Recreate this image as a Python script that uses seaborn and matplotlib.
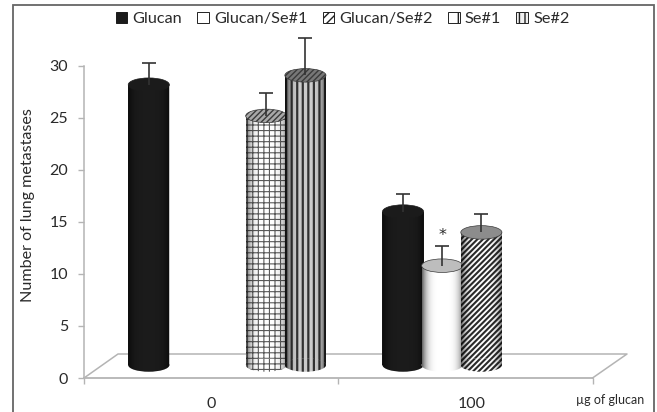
import numpy as np
import pandas as pd
import matplotlib
matplotlib.use("Agg")
import matplotlib.pyplot as plt
from matplotlib.patches import Ellipse, Patch, Polygon, Rectangle
import seaborn as sns

# ----- data -----
doses = ["0", "100"]
groups = ["Glucan", "Glucan/Se#1", "Glucan/Se#2", "Se#1", "Se#2"]
row_dose = ["0", "0", "0", "100", "100", "100"]
row_group = ["Glucan", "Se#1", "Se#2", "Glucan", "Glucan/Se#1", "Glucan/Se#2"]
row_mean = [28.2, 25.2, 29.1, 16.0, 10.8, 14.0]
row_top = [30.3, 27.4, 32.7, 17.7, 12.7, 15.8]
y_ticks = [0, 5, 10, 15, 20, 25, 30]

# ----- looks -----
face = {"Glucan": "#1b1b1b", "Glucan/Se#1": "#ffffff", "Glucan/Se#2": "#ffffff",
        "Se#1": "#ffffff", "Se#2": "#f0f0f0"}
hatch_col = {"Glucan": "#1b1b1b", "Glucan/Se#1": "#ffffff", "Glucan/Se#2": "#2b2b2b",
             "Se#1": "#5a5a5a", "Se#2": "#3c3c3c"}
hatches = {"Glucan": "", "Glucan/Se#1": "", "Glucan/Se#2": "//////", "Se#1": "+++", "Se#2": "|||"}
hatch_lw = {"Glucan": 1.0, "Glucan/Se#1": 1.0, "Glucan/Se#2": 1.5, "Se#1": 0.8, "Se#2": 1.6}
cap_col = {"Glucan": "#1b1b1b", "Glucan/Se#1": "#bdbdbd", "Glucan/Se#2": "#8c8c8c",
           "Se#1": "#a8a8a8", "Se#2": "#777777"}
cap_hatch = {"Glucan": "", "Glucan/Se#1": "", "Glucan/Se#2": "", "Se#1": "//////", "Se#2": "//////"}
GREY = "#b4b4b4"
TXT = "#2a2a2a"

sns.set_style("white")
plt.rcParams["font.family"] = ["Lato", "DejaVu Sans"]

W, H = 657, 412
fig = plt.figure(figsize=(W / 100, H / 100), dpi=100)
ax = fig.add_axes([84 / W, (H - 378) / H, (592.5 - 84) / W, (378 - 30) / H])

df = pd.DataFrame({"dose": row_dose, "group": row_group, "mean": row_mean})
sns.barplot(data=df, x="dose", y="mean", hue="group", order=doses, hue_order=groups,
            palette=face, width=0.77, gap=0, legend=False, ax=ax, zorder=3)

x_lo, x_hi = -0.559, 1.441
y_hi = 33.46
px_x = lambda p: x_lo + (p - 84) * (x_hi - x_lo) / (592.5 - 84)
px_y = lambda p: (378 - p) / 10.4

base = px_y(365)        # where the cylinder side meets the floor ellipse
ell_h = 1.3
tops = {(d, g): t for d, g, t in zip(row_dose, row_group, row_top)}

# ----- turn the flat bars into cylinders -----
z = 3
for group, container in zip(groups, ax.containers):
    for bar in container:
        value = bar.get_height()
        if np.isnan(value) or value == 0:
            continue
        x0, w = bar.get_x(), bar.get_width() * 1.05
        xc = x0 + w / 2
        z += 1
        bar.set_y(base)
        bar.set_width(w)
        bar.set_height(value - base)
        bar.set_facecolor(face[group])
        bar.set_edgecolor(hatch_col[group])
        bar.set_hatch(hatches[group])
        bar.set_hatch_linewidth(hatch_lw[group])
        bar.set_linewidth(0)
        bar.set_zorder(z)

        low = Ellipse((xc, base), w, ell_h, fc=face[group], ec=hatch_col[group],
                      hatch=hatches[group], lw=0, zorder=z)
        low.set_hatch_linewidth(hatch_lw[group])
        ax.add_patch(low)

        # soft round shading on the side
        t = np.linspace(0, np.pi, 60)
        side = [(x0, value), (x0 + w, value)] + [
            (xc + w / 2 * np.cos(a), base - ell_h / 2 * np.sin(a)) for a in t
        ]
        clip = Polygon(side, transform=ax.transData)
        s = np.linspace(-1, 1, 64)
        shade = np.zeros((1, 64, 4))
        shade[0, :, 3] = 0.6 * np.abs(s) ** 4 + (0.15 if group == "Se#2" else 0)
        im = ax.imshow(shade, extent=(x0, x0 + w, base - ell_h, value), aspect="auto",
                       zorder=z + 0.1)
        im.set_clip_path(clip)

        cap_edge = cap_col[group] if group == "Glucan" else "#3a3a3a"
        ax.add_patch(Ellipse((xc, value), w, ell_h, fc=cap_col[group], ec=cap_edge,
                             hatch=cap_hatch[group], lw=0.5, zorder=z + 0.2))

        top = tops[(doses[round(xc)], group)]
        eb = ax.errorbar(xc, value, yerr=[[0], [top - value]], color="#333333", lw=1.2,
                         capsize=4.7, capthick=1.2, zorder=z + 0.3)
        eb[1][0].set_visible(False)
        if group == "Glucan/Se#1":
            ax.text(xc, top + 1.0, "*", ha="center", va="center", fontsize=11.5, color=TXT,
                    family="DejaVu Sans", zorder=z + 0.3)

# ----- floor of the 3D box -----
floor_x = [84, 118, 627, 592.5]
floor_y = [378, 354, 354, 378]
ax.plot([px_x(p) for p in floor_x], [px_y(p) for p in floor_y], color=GREY, lw=1.1,
        clip_on=False, zorder=1)

ax.set_xlim(x_lo, x_hi)
ax.set_ylim(0, y_hi)
ax.patch.set_alpha(0)
sns.despine(ax=ax, top=True, right=True)
ax.spines["left"].set_bounds(0, 30)
ax.spines["left"].set_color(GREY)
ax.spines["bottom"].set_color(GREY)
ax.spines["left"].set_linewidth(1.1)
ax.spines["bottom"].set_linewidth(1.3)

ax.set_yticks(y_ticks)
ax.tick_params(axis="y", length=4.3, width=1, color=GREY, labelsize=11.5, labelcolor=TXT, pad=7, left=True)
ax.set_xticks([px_x(211), px_x(472)], doses)
ax.tick_params(axis="x", which="major", length=0, labelsize=11.5, labelcolor=TXT, pad=14)
ax.set_xticks([px_x(84), px_x(338), px_x(592.5)], minor=True)
ax.tick_params(axis="x", which="minor", length=4.3, width=1, color=GREY, bottom=True)
ax.set_xlabel("")
ax.set_ylabel("Number of lung metastases", fontsize=11.6, color=TXT)
ax.yaxis.set_label_coords((35 - 84) / (592.5 - 84), (378 - 205) / (378 - 30))

fig.text(610.5 / W, (H - 400) / H, "\u00b5g of glucan", ha="center", va="center",
         fontsize=9, color=TXT)

# ----- legend -----
legend_hatch = {"Glucan": "", "Glucan/Se#1": "", "Glucan/Se#2": "////", "Se#1": "+", "Se#2": "|||"}
handles = [Patch(fc=face[g], ec="#222222" if g != "Glucan" else "#1b1b1b", hatch=legend_hatch[g],
                 lw=0.7, label=g) for g in groups]
fig.legend(handles=handles, ncol=5, loc="center", bbox_to_anchor=(342.5 / W, (H - 19) / H),
           frameon=False, fontsize=11.7, handlelength=0.72, handleheight=0.72,
           handletextpad=0.3, columnspacing=0.95, labelcolor=TXT)

# ----- outer frame, bottom edge runs off the page -----
fig.add_artist(Rectangle((13 / W, -0.05), (654 - 13) / W, (H - 5) / H + 0.05, fill=False,
                         ec="#666666", lw=1.3, transform=fig.transFigure))

fig.savefig("out.png", dpi=100)
